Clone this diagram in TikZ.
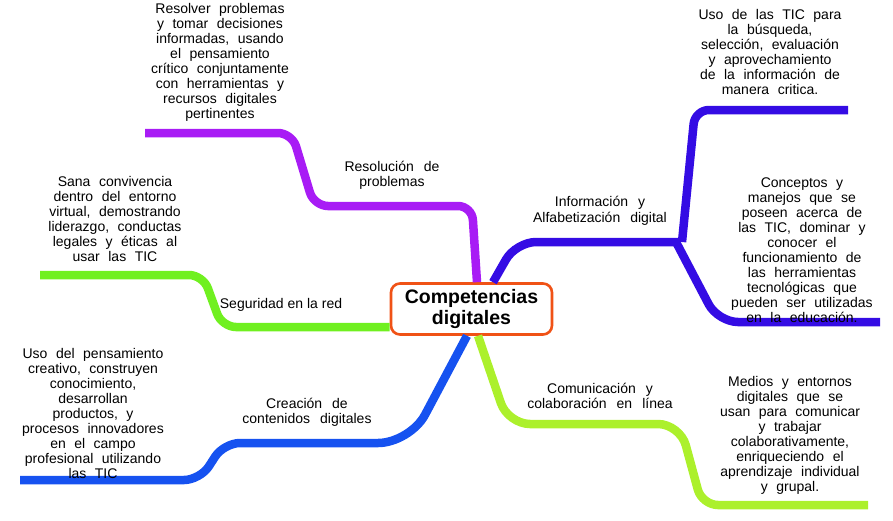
\documentclass[tikz,border=0pt]{standalone}
\usepackage{fontspec}
\setmainfont{Liberation Sans}
\newcommand\leafsp{\spaceskip 8.5pt plus 0pt minus 0pt\relax}
\newcommand\lblsp{\spaceskip 10pt plus 0pt minus 0pt\relax}
\newcommand\leaffont{\fontsize{14}{15}\selectfont\leafsp}
\newcommand\lblfont{\fontsize{14}{15.5}\selectfont\lblsp}
\definecolor{cpurple}{RGB}{168,28,245}
\definecolor{cindigo}{RGB}{52,12,228}
\definecolor{clime}{RGB}{172,240,44}
\definecolor{cgreen}{RGB}{112,240,32}
\definecolor{cblue}{RGB}{22,82,240}
\definecolor{corange}{RGB}{240,82,22}
\tikzset{
  branch/.style={line width=8.5pt, rounded corners=14pt, line cap=butt},
  leaf/.style={align=center, inner sep=0pt, font=\leaffont},
  lbl/.style={align=center, inner sep=0pt, font=\lblfont},
  hub/.style={draw=corange, line width=2.6pt, rounded corners=9pt, fill=white,
    minimum width=161pt, minimum height=51pt, align=center, inner sep=0pt,
    font=\fontsize{19.5}{21}\selectfont\bfseries}
}
\begin{document}
\begin{tikzpicture}[x=1pt,y=-1pt]
\useasboundingbox (0,0) rectangle (893,520);
% hub
\node[hub] (c) at (471.5,309) {Competencias\\digitales};
% free ends of branches
\coordinate (pEnd) at (145,133);
\coordinate (iJ) at (678,242);
\coordinate (iUp) at (848,110);
\coordinate (iDn) at (880,322);
\coordinate (lEnd) at (868,505);
\coordinate (bEnd) at (20,480);
\coordinate (gEnd) at (40,275);
% purple
\draw[branch, cpurple] ([xshift=5.5pt]c.north) -- (472,206) -- (314,206) -- (292,133) -- (pEnd);
% indigo
\draw[branch, cindigo, rounded corners=20pt] ([xshift=21.5pt]c.north) -- (516,242) -- (iJ);
\draw[branch, cindigo] ([xshift=4pt]iJ) -- (695,110) -- (iUp);
\draw[branch, cindigo, rounded corners=20pt] ([xshift=-2pt]iJ) -- (718,322) -- (iDn);
% lime
\draw[branch, clime, rounded corners=22pt] ([xshift=6.5pt]c.south) -- (508,424) -- (680,424) [rounded corners=16pt] -- (702,505) -- (lEnd);
% blue
\draw[branch, cblue, rounded corners=32pt] ([xshift=-4.5pt]c.south) -- (410,443) [rounded corners=16pt] -- (224,443) -- (200,480) -- (bEnd);
% green
\draw[branch, cgreen] (c.west |- 0,327) -- (222,327) -- (203,275) -- (gEnd);
% branch labels
\node[lbl] (l1) at (392,175.5) {Resolución de\\problemas};
\node[lbl] (l2) at (600,211) {Información y\\Alfabetización digital};
\node[lbl, font=\fontsize{14}{15}\selectfont] (l3) at (281,304.5) {Seguridad en la red};
\node[lbl] (l4) at (307,412.5) {Creación de\\contenidos digitales};
\node[lbl] (l5) at (600,396) {Comunicación y\\colaboración en línea};
% leaves
\node[leaf] (t1) at (220,62.5) {Resolver problemas\\y tomar decisiones\\informadas, usando\\el pensamiento\\crítico conjuntamente\\con herramientas y\\recursos digitales\\pertinentes};
\node[leaf] (t2) at (770,51.5) {Uso de las TIC para\\la búsqueda,\\selección, evaluación\\y aprovechamiento\\de la información de\\manera critica.};
\node[leaf] (t3) at (802,250) {Conceptos y\\manejos que se\\poseen acerca de\\las TIC, dominar y\\conocer el\\funcionamiento de\\las herramientas\\tecnológicas que\\pueden ser utilizadas\\en la educación.};
\node[leaf] (t4) at (115,219) {Sana convivencia\\dentro del entorno\\virtual, demostrando\\liderazgo, conductas\\legales y éticas al\\usar las TIC};
\node[leaf] (t5) at (93,413.5) {Uso del pensamiento\\creativo, construyen\\conocimiento,\\desarrollan\\productos, y\\procesos innovadores\\en el campo\\profesional utilizando\\las TIC};
\node[leaf] (t6) at (790,435) {Medios y entornos\\digitales que se\\usan para comunicar\\y trabajar\\colaborativamente,\\enriqueciendo el\\aprendizaje individual\\y grupal.};
\end{tikzpicture}
\end{document}
